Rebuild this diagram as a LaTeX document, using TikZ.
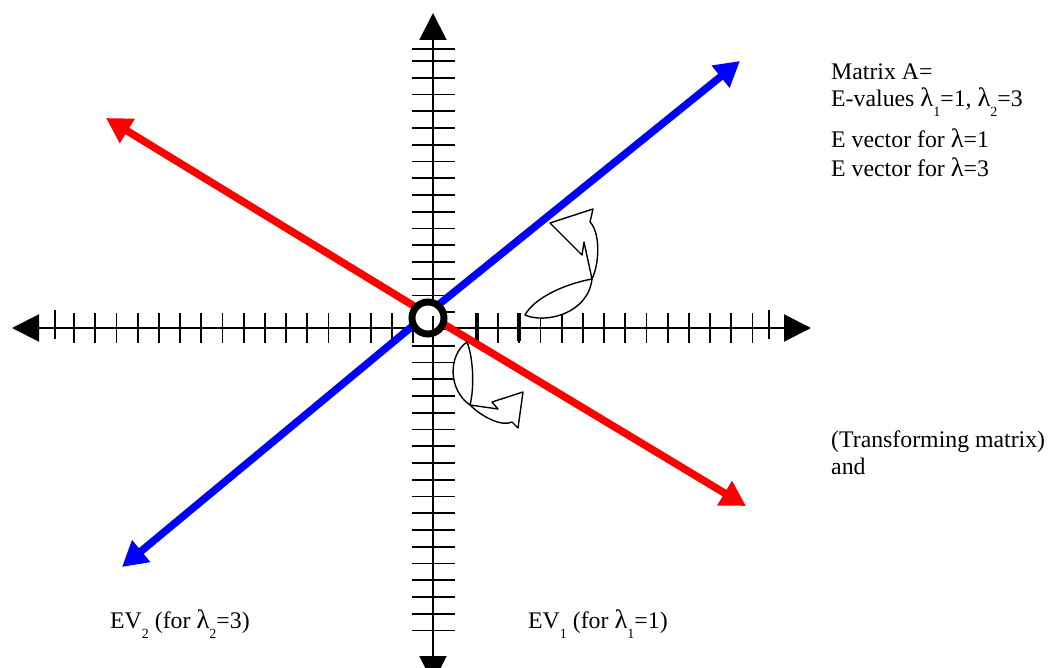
\documentclass[tikz,border=0pt]{standalone}
\usepackage{fontspec}
\setmainfont{Liberation Serif}
\usetikzlibrary{arrows.meta}
\newcommand\lsub[1]{\raisebox{-10pt}{\fontsize{14}{14}\selectfont #1}}
\newcommand\lam{\scalebox{1.12}{λ}}
\begin{document}
\begin{tikzpicture}[x=1pt,y=-1pt,
  axis/.style={line width=2pt, black},
  axtip/.style={{Triangle[length=27pt,width=27pt]}-{Triangle[length=27pt,width=27pt]}},
  tick/.style={line width=1.8pt, black},
  boldtick/.style={line width=4pt, black},
  vec/.style={line width=7.5pt, -{Triangle[length=25pt,width=27pt]}},
  carrow/.style={line width=1.4pt, fill=white, line join=round},
  lbl/.style={inner sep=0pt, anchor=base west, font=\fontsize{23.8}{28}\selectfont}]
\useasboundingbox (0,0) rectangle (1050,668);
% axes
\coordinate (xl) at (12,328);
\coordinate (xr) at (811,328);
\coordinate (yt) at (433,13);
\coordinate (yb) at (433,683);
\draw[axis, axtip] (xl) -- (xr);
\draw[axis, axtip] (yt) -- (yb);
% ticks on horizontal axis
\foreach \k in {-17,...,-1,2,3,...,15} \draw[tick] ({434.5+21.2*\k},313) -- ++(0,30);
\draw[tick] (55,310) -- (55,339);
\draw[tick] (769,310) -- (769,339);
\draw[boldtick] ({434.5+42.4},313) -- ++(0,28);
\draw[boldtick] ({434.5+84.8},313) -- ++(0,28);
% ticks on vertical axis
\foreach \m in {-16,...,18} \draw[tick] (412,{329+16.75*\m}) -- (455,{329+16.75*\m});
\draw[tick] (412,49) -- (455,49);
% eigenvectors
\coordinate (O) at (427,314);
\coordinate (b1) at (740,61);
\coordinate (b2) at (122,567);
\coordinate (r1) at (106,118);
\coordinate (r2) at (746,506);
\draw[vec, blue] (O) -- (b1);
\draw[vec, blue] (O) -- (b2);
\draw[vec, red] (O) -- (r1);
\draw[vec, red] (O) -- (r2);
% origin ring
\draw[line width=7pt, fill=white] (428,318) circle[radius=16];
\draw[tick] (433,316) -- (433,338);
% upper curved arrow
\draw[carrow] (550,223) -- (593,209) -- (590,222) .. controls (600,232) and (600,262) .. (592,279) -- (584,242) -- (582,255) -- cycle;
\draw[carrow] (525,315) .. controls (533,300) and (560,285) .. (592,279) .. controls (588,314) and (545,324) .. (525,315) -- cycle;
% lower curved arrow
\draw[carrow] (470,405) -- (498,409) -- (492,402) -- (523,392) -- (518,428) -- (512,422) .. controls (502,427) and (482,417) .. (470,405) -- cycle;
\draw[carrow] (467,342) .. controls (448,355) and (448,390) .. (470,405) .. controls (474,390) and (474,360) .. (467,342) -- cycle;
% labels
\node[lbl] (t1) at (831,80) {Matrix A=};
\node[lbl] (t2) at (831,107) {E-values \lam\lsub{1}=1, \lam\lsub{2}=3};
\node[lbl] (t3) at (831,148) {E vector for \lam=1};
\node[lbl] (t4) at (831,177) {E vector for \lam=3};
\node[lbl] (t5) at (831,447) {(Transforming matrix)};
\node[lbl] (t6) at (831,474) {and};
\node[lbl] (t7) at (110,628) {EV\lsub{2} (for \lam\lsub{2}=3)};
\node[lbl] (t8) at (528,628) {EV\lsub{1} (for \lam\lsub{1}=1)};
\end{tikzpicture}
\end{document}
